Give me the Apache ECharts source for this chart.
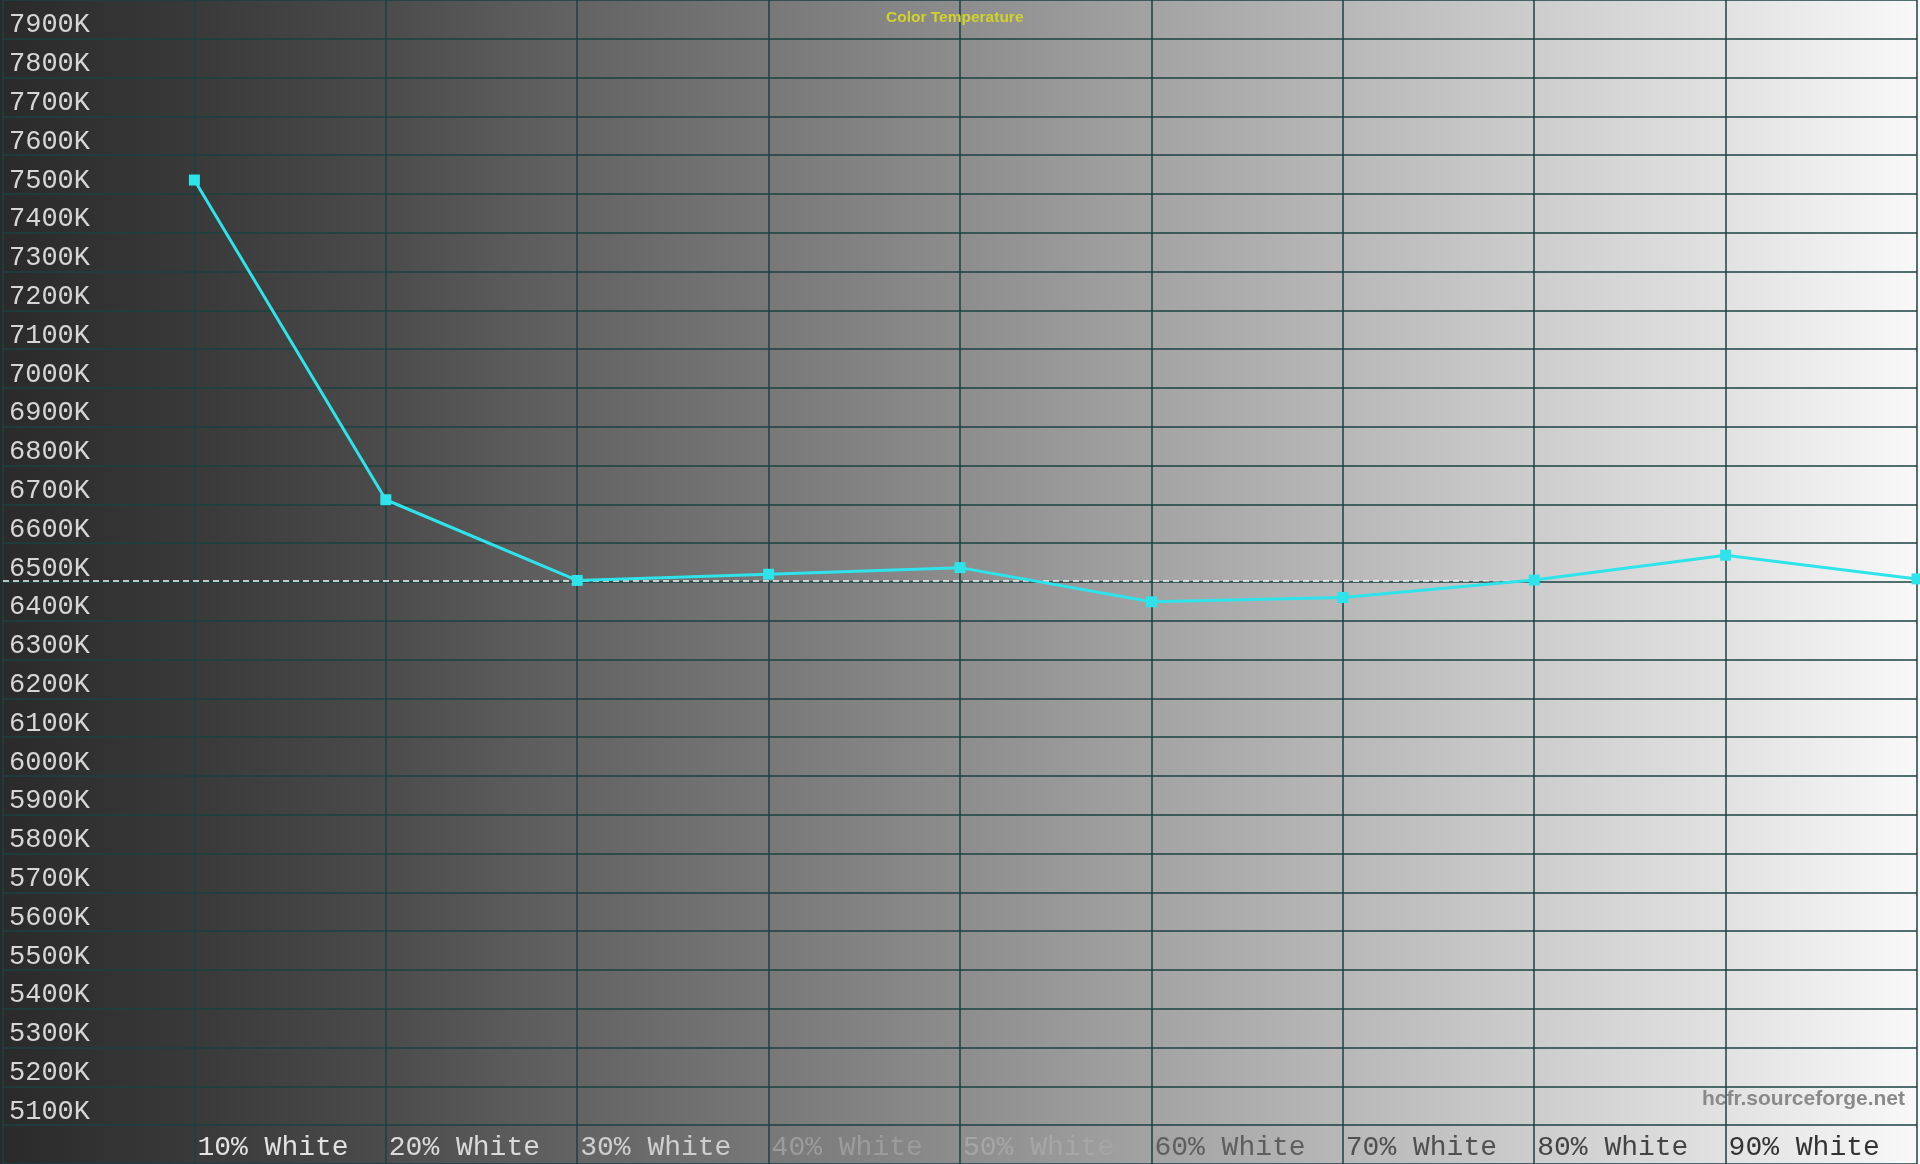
<!DOCTYPE html>
<html>
<head>
<meta charset="utf-8">
<script src="https://cdn.jsdelivr.net/npm/echarts@6/dist/echarts.min.js"></script>
<style>
html,body{margin:0;padding:0;background:#2a2a2a;}
#chart{width:1920px;height:1164px;}
</style>
</head>
<body>
<div id="chart"></div>
<script>
// Data
const stimulusLevels = [10, 20, 30, 40, 50, 60, 70, 80, 90, 100];
const colorTemperature = [7536, 6712, 6504, 6520, 6537, 6449, 6460, 6505, 6569, 6508];
const referenceTemp = 6504;
const yMin = 5000, yMax = 8000, yStep = 100;
const xLabelColors = {10:'#e2e2e2',20:'#dadada',30:'#cfcfcf',40:'#9c9c9c',50:'#a6a6a6',60:'#5e5e5e',70:'#505050',80:'#444444',90:'#333333'};

const chart = echarts.init(document.getElementById('chart'));
const monoFont = '"Courier New", "Liberation Mono", monospace';

chart.setOption({
  animation: false,
  backgroundColor: new echarts.graphic.LinearGradient(0, 0, 1, 0, [
    {offset: 0, color: '#2a2a2a'},
    {offset: 0.1, color: '#393939'},
    {offset: 0.2, color: '#4b4b4b'},
    {offset: 0.3, color: '#636363'},
    {offset: 0.4, color: '#787878'},
    {offset: 0.5, color: '#8d8d8d'},
    {offset: 0.6, color: '#a3a3a3'},
    {offset: 0.7, color: '#b8b8b8'},
    {offset: 0.8, color: '#cdcdcd'},
    {offset: 0.9, color: '#e2e2e2'},
    {offset: 1, color: '#f9f9f9'}
  ]),
  title: {
    text: 'Color Temperature',
    left: 881, top: 5,
    textStyle: {color: '#d2d22c', fontSize: 15.5, fontWeight: 'bold', fontFamily: 'Liberation Sans, Arial, sans-serif'}
  },
  graphic: [{
    type: 'text', right: 15, top: 1089,
    style: {text: 'hcfr.sourceforge.net', fill: '#8a8a8a', font: 'bold 21px "Liberation Sans", Arial, sans-serif'}
  }],
  grid: {left: 0, right: 0, top: 0, bottom: 0, containLabel: false},
  xAxis: {
    type: 'value', min: 0, max: 100, interval: 10,
    axisLine: {show: false}, axisTick: {show: false},
    splitLine: {show: true, lineStyle: {color: '#1a4242', width: 1.5}},
    axisLabel: {
      inside: true, margin: 2, align: 'left', verticalAlign: 'bottom',
      padding: [0, 0, 0, 3],
      fontFamily: monoFont, fontSize: 28,
      formatter: v => (v > 0 && v < 100) ? v + '% White' : '',
      color: v => xLabelColors[v] || '#cccccc'
    }
  },
  yAxis: {
    type: 'value', min: yMin, max: yMax, interval: yStep,
    axisLine: {show: false}, axisTick: {show: false},
    splitLine: {show: true, lineStyle: {color: '#1a4242', width: 1.5}},
    axisLabel: {
      inside: true, margin: 6, align: 'left', verticalAlign: 'bottom',
      padding: [0, 0, 0, 0],
      fontFamily: monoFont, fontSize: 27, color: '#d6d6d6',
      formatter: v => (v > yMin && v < yMax) ? v + 'K' : ''
    }
  },
  series: [{
    type: 'line',
    data: stimulusLevels.map((x, i) => [x, colorTemperature[i]]),
    symbol: 'rect', symbolSize: 11,
    lineStyle: {color: '#2fe3ea', width: 3},
    itemStyle: {color: '#2fe3ea'},
    markLine: {
      silent: true, symbol: 'none', label: {show: false},
      lineStyle: {
        color: new echarts.graphic.LinearGradient(0, 0, 1, 0, [
          {offset: 0, color: 'rgba(245,245,245,1)'},
          {offset: 0.76, color: 'rgba(245,245,245,1)'},
          {offset: 0.8, color: 'rgba(245,245,245,0)'},
          {offset: 1, color: 'rgba(245,245,245,0)'}
        ]),
        type: [6, 4], width: 1.5
      },
      data: [{yAxis: referenceTemp}]
    },
    z: 5
  }]
});
</script>
</body>
</html>
